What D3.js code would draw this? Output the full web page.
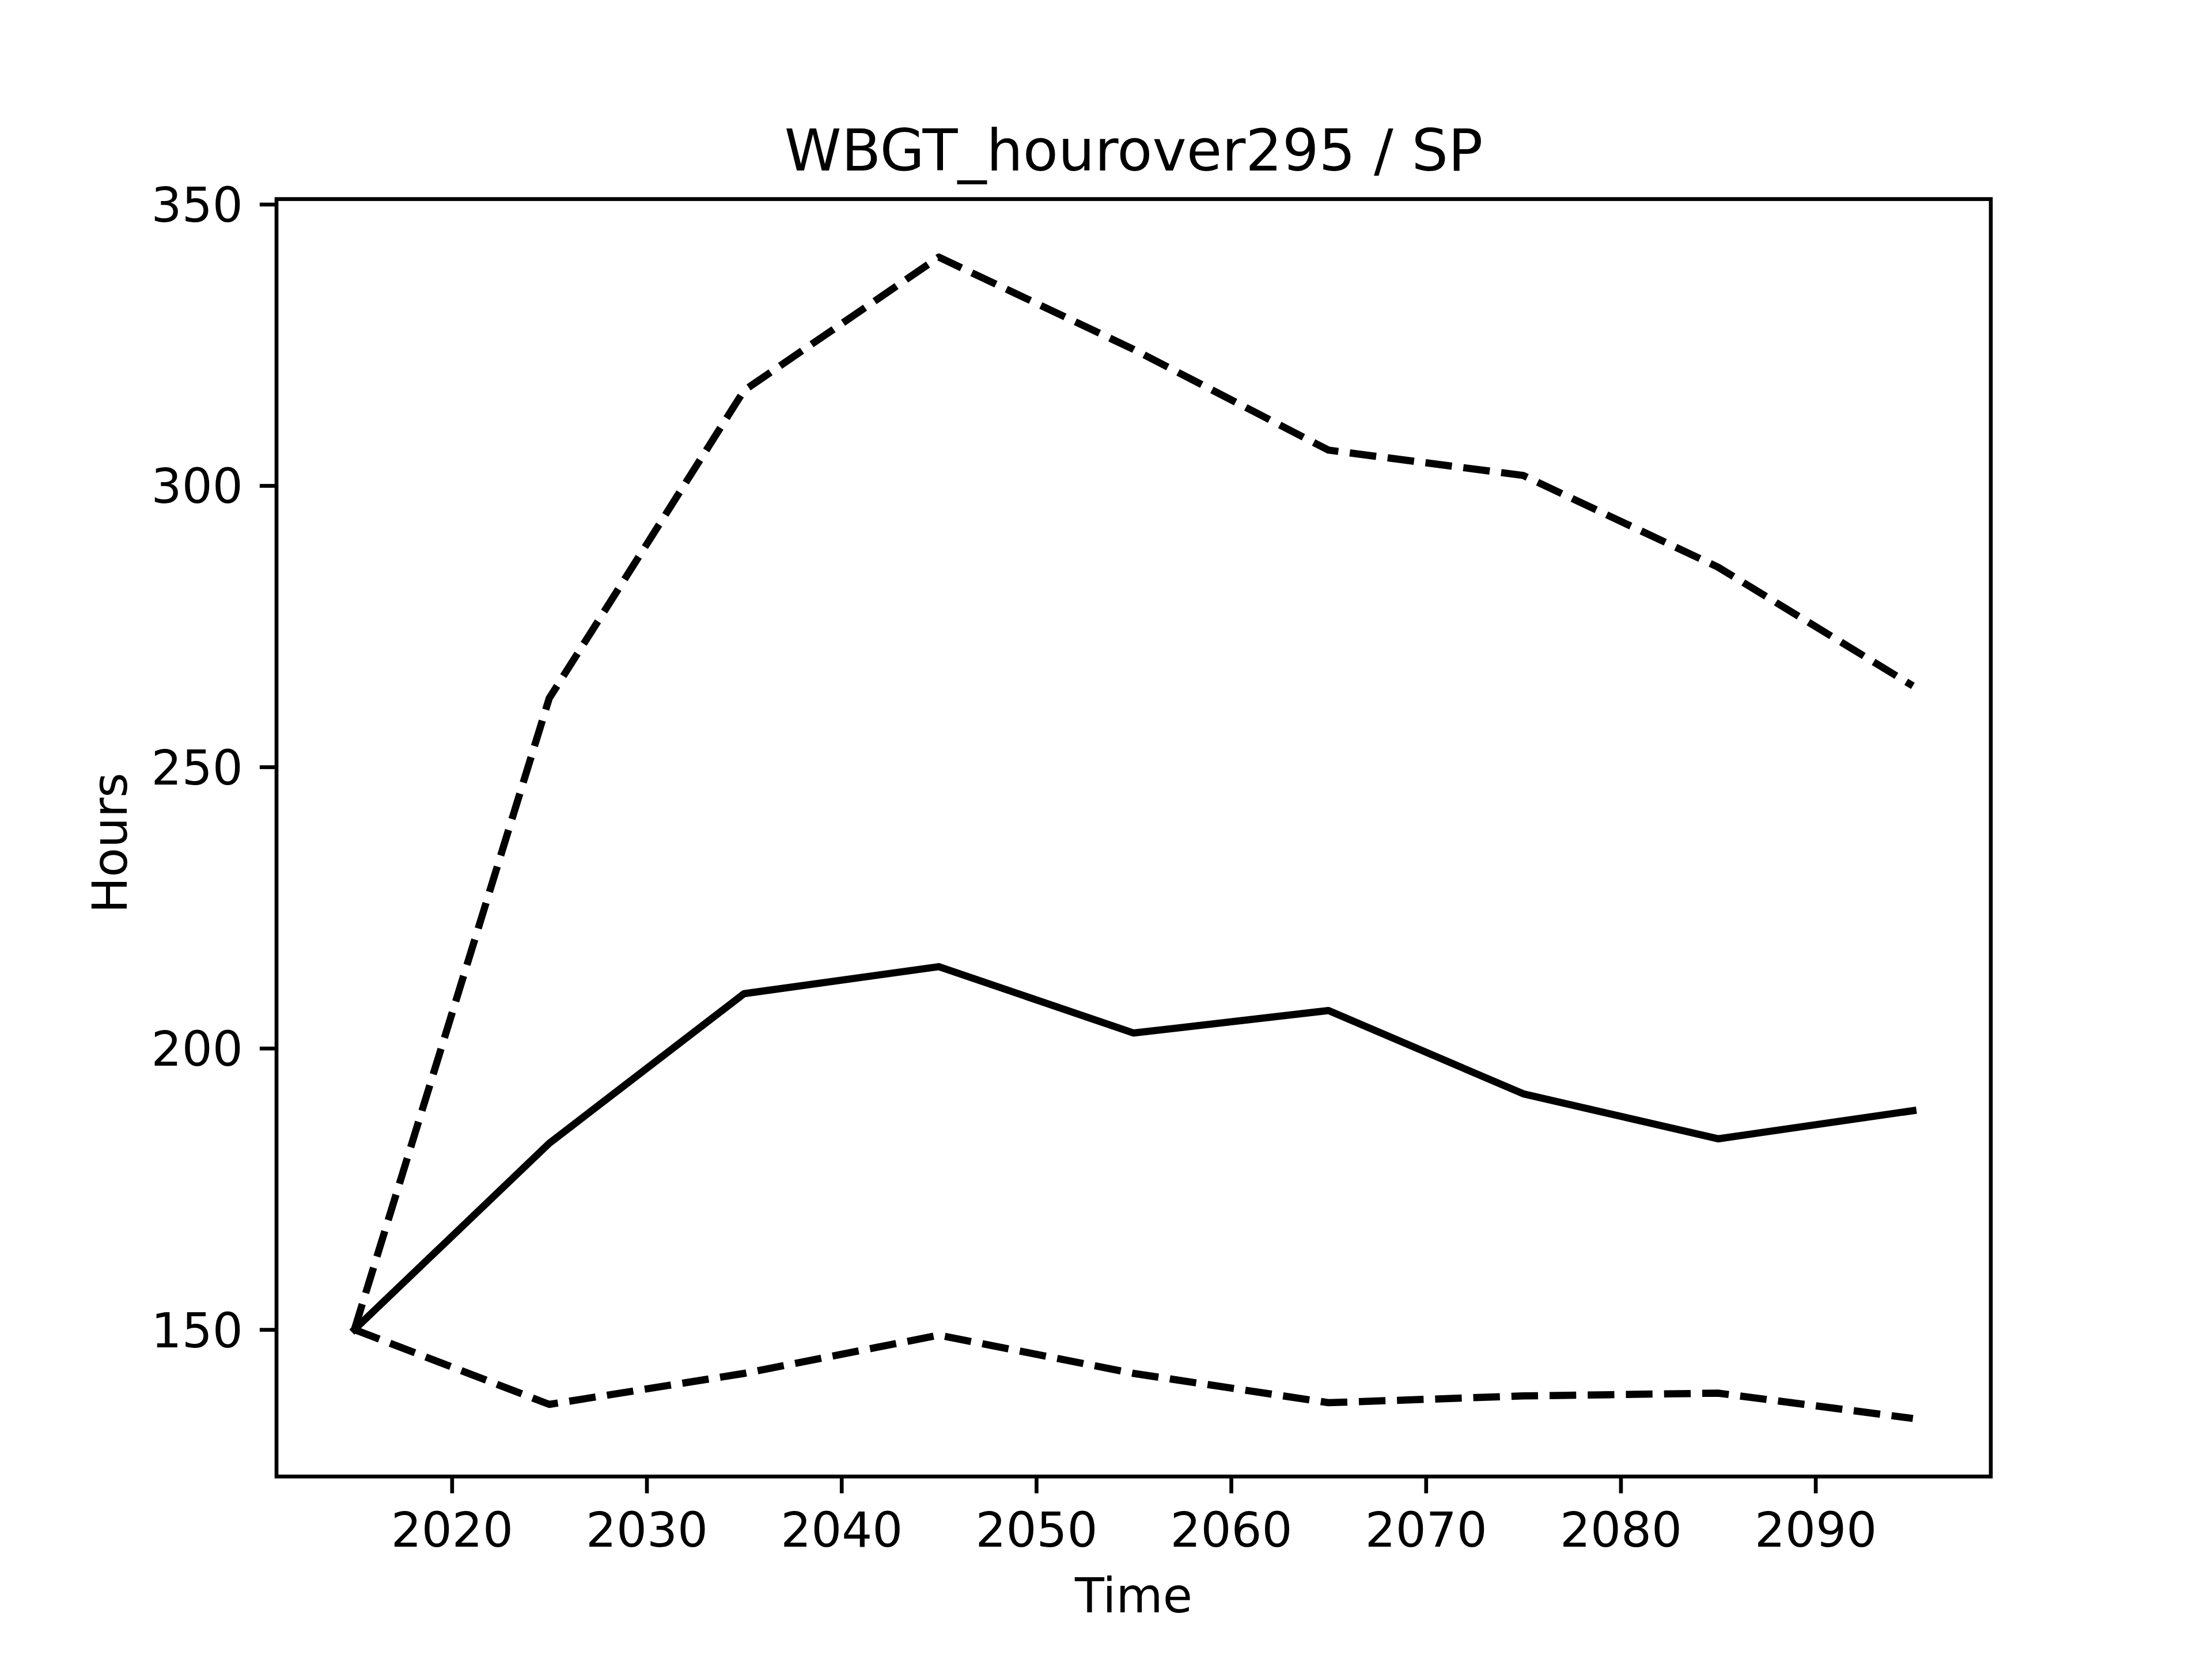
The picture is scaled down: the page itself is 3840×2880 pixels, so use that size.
<!DOCTYPE html>
<html>
<head>
<meta charset="utf-8">
<script src="https://cdn.jsdelivr.net/npm/d3@7"></script>
<style>
html,body{margin:0;padding:0;background:#fff;}
svg{display:block;}
text{font-family:"DejaVu Sans",sans-serif;fill:#000;}
</style>
</head>
<body>
<script>
const years = [2015, 2025, 2035, 2045, 2055, 2065, 2075, 2085, 2095];
const median = [150, 183.1, 209.7, 214.5, 202.7, 206.7, 191.9, 183.9, 188.9];
const upper = [150, 262.2, 316.9, 340.6, 324.2, 306.3, 301.8, 285.5, 264.4];
const lower = [150, 136.7, 142.2, 149.0, 142.2, 137.0, 138.2, 138.7, 134.2];
const xTicks = [2020, 2030, 2040, 2050, 2060, 2070, 2080, 2090];
const yTicks = [150, 200, 250, 300, 350];
const title = "WBGT_hourover295 / SP";
const xLabel = "Time";
const yLabel = "Hours";

const W = 3840, H = 2880;
const L = 480, R = 3456, T = 345.6, B = 2563.2;
const px = 600/72;

const svg = d3.select("body").append("svg").attr("width", W).attr("height", H);
svg.append("rect").attr("width", W).attr("height", H).attr("fill", "#fff");

const all = median.concat(upper, lower);
const ymin = d3.min(all), ymax = d3.max(all);
const ym = (ymax - ymin) * 0.05;
const xmin = d3.min(years), xmax = d3.max(years);
const xm = (xmax - xmin) * 0.05;

const x = d3.scaleLinear().domain([xmin - xm, xmax + xm]).range([L, R]);
const y = d3.scaleLinear().domain([ymin - ym, ymax + ym]).range([B, T]);

const line = d3.line().x((d, i) => x(years[i])).y(d => y(d));

const g = svg.append("g");
g.append("clipPath").attr("id", "clip").append("rect")
  .attr("x", L).attr("y", T).attr("width", R - L).attr("height", B - T);

const lw = 1.5 * px;
const plot = g.append("g").attr("clip-path", "url(#clip)");
plot.append("path").attr("d", line(median)).attr("fill", "none")
  .attr("stroke", "#000").attr("stroke-width", lw)
  .attr("stroke-linejoin", "round").attr("stroke-linecap", "square");
[upper, lower].forEach(s => {
  plot.append("path").attr("d", line(s)).attr("fill", "none")
    .attr("stroke", "#000").attr("stroke-width", lw)
    .attr("stroke-linejoin", "round").attr("stroke-linecap", "butt")
    .attr("stroke-dasharray", `${3.7*lw} ${1.6*lw}`);
});

const tickLen = 3.5 * px, tickW = 0.8 * px, pad = 3.5 * px;
const fs = 10 * px;

const xAxis = d3.axisBottom(x).tickValues(xTicks).tickFormat(d3.format("d"))
  .tickSize(tickLen).tickPadding(pad);
const xa = svg.append("g").attr("transform", `translate(0,${B})`).call(xAxis);
xa.select(".domain").remove();
xa.selectAll("line").attr("stroke", "#000").attr("stroke-width", tickW);
xa.selectAll("text").attr("font-size", fs).attr("font-family", "DejaVu Sans")
  .attr("dy", "0.76em").attr("fill", "#000");

const yAxis = d3.axisLeft(y).tickValues(yTicks).tickFormat(d3.format("d"))
  .tickSize(tickLen).tickPadding(pad);
const ya = svg.append("g").attr("transform", `translate(${L},0)`).call(yAxis);
ya.select(".domain").remove();
ya.selectAll("line").attr("stroke", "#000").attr("stroke-width", tickW);
ya.selectAll("text").attr("font-size", fs).attr("font-family", "DejaVu Sans")
  .attr("dy", "0.36em").attr("fill", "#000");

svg.append("rect").attr("x", L).attr("y", T).attr("width", R - L).attr("height", B - T)
  .attr("fill", "none").attr("stroke", "#000").attr("stroke-width", tickW)
  .attr("stroke-linejoin", "miter");

svg.append("text").attr("x", (L + R) / 2).attr("y", T - 6 * px)
  .attr("text-anchor", "middle").attr("font-size", 12 * px).text(title);

svg.append("text").attr("x", (L + R) / 2).attr("y", 2799)
  .attr("text-anchor", "middle").attr("font-size", fs).text(xLabel);

svg.append("text").attr("transform", `translate(220,${(T + B) / 2 + 9}) rotate(-90)`)
  .attr("text-anchor", "middle").attr("font-size", fs).text(yLabel);
</script>
</body>
</html>
